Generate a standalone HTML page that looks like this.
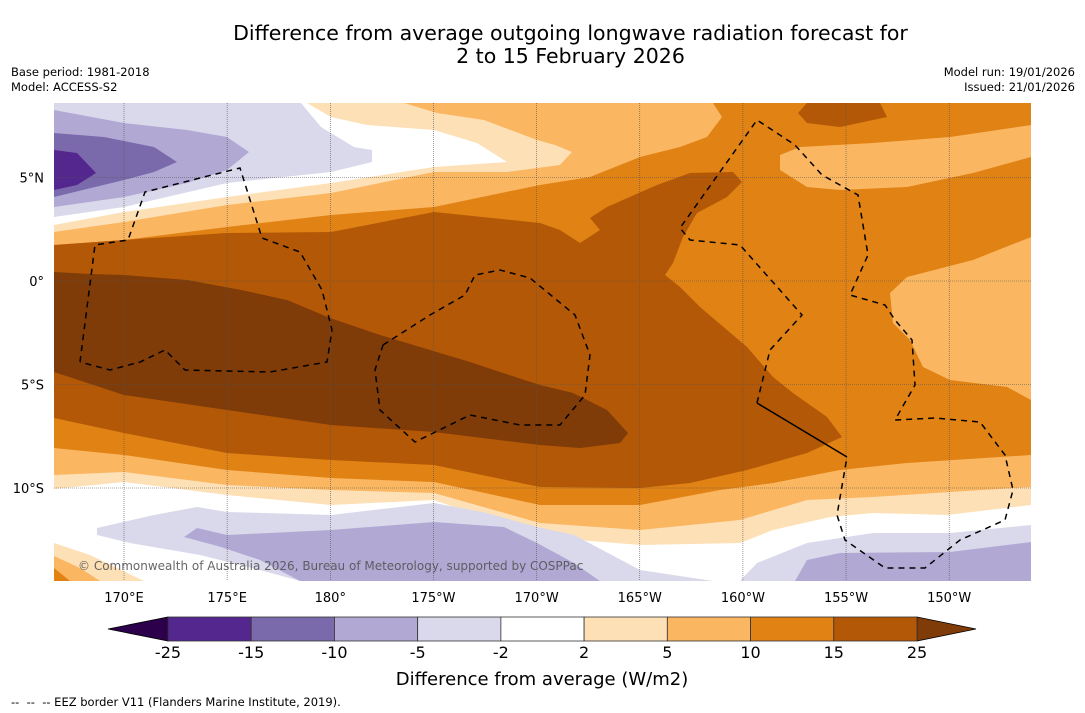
<!DOCTYPE html>
<html><head><meta charset="utf-8"><style>
body{margin:0;width:1085px;height:713px;background:#fff;font-family:"DejaVu Sans","Liberation Sans",sans-serif;overflow:hidden;position:relative}
svg text{font-family:"DejaVu Sans","Liberation Sans",sans-serif}
.t{position:absolute;white-space:nowrap;color:#000}
</style></head><body>
<div class="t" style="left:0;width:1141px;text-align:center;top:22px;font-size:20.5px;line-height:23px">Difference from average outgoing longwave radiation forecast for<br>2 to 15 February 2026</div>
<div class="t" style="left:11px;top:65px;font-size:11.5px;line-height:15px">Base period: 1981-2018<br>Model: ACCESS-S2</div>
<div class="t" style="right:10px;top:65px;font-size:11.5px;line-height:15px;text-align:right">Model run: 19/01/2026<br>Issued: 21/01/2026</div>
<svg id="map" width="1085" height="713" style="position:absolute;left:0;top:0">
<defs><clipPath id="cp"><rect x="54" y="103" width="977" height="478"/></clipPath></defs>
<g clip-path="url(#cp)">
<rect x="54" y="103" width="977" height="478" fill="#fff"/>
<polygon fill="#fde0b6" points="307,103 1031,103 1031,505 947,515 873,513 830,517 773,530 740,543 640,545 540,537 434,500 331,505 227,495 124,482 54,489 54,225 124,212 227,197 331,183 434,167 507,162 477,143 434,130 367,125 331,117"/>
<polygon fill="#fbb661" points="54,232 124,222 227,205 331,193 434,172 507,172 560,165 572,152 555,145 537,140 484,120 437,113 404,103 1031,103 1031,487 950,492 873,497 807,500 740,520 640,530 540,523 434,493 331,490 227,485 124,472 54,475"/>
<polygon fill="#e08214" points="54,245 124,240 227,227 331,215 434,207 540,185 590,177 640,157 680,147 707,137 722,117 713,103 1031,103 1031,455 907,463 840,470 773,483 720,490 640,505 540,505 434,482 331,478 227,470 124,455 54,448"/>
<polygon fill="#fbb661" points="780,155 800,147 873,143 950,137 1031,125 1031,157 973,173 907,187 840,190 807,187 780,170"/>
<polygon fill="#fbb661" points="1031,237 973,260 907,277 890,293 893,323 910,340 923,367 950,380 1007,387 1031,400"/>
<polygon fill="#b35806" points="54,245 124,240 227,233 331,232 434,212 540,223 560,230 580,243 600,230 590,218 607,207 657,185 690,173 733,172 742,182 727,197 697,213 683,237 673,263 665,275 680,287 700,307 727,330 747,347 773,377 793,393 827,417 842,437 807,453 747,470 690,483 640,488 540,487 434,465 331,460 227,453 124,433 54,418"/>
<polygon fill="#b35806" points="798,113 807,103 880,103 887,117 840,127 807,123"/>
<polygon fill="#7f3b08" points="54,272 90,274 124,275 187,280 241,290 287,300 330,318 380,335 430,350 470,362 500,372 540,385 573,393 607,410 628,433 620,443 580,448 540,445 434,432 331,425 227,410 124,395 54,372"/>
<polygon fill="#d9d9eb" points="54,103 301,103 321,127 354,147 372,150 372,162 331,172 227,183 124,207 54,217"/>
<polygon fill="#b1a9d3" points="54,110 124,123 187,130 227,137 249,152 227,170 187,183 124,197 54,207"/>
<polygon fill="#7b6aab" points="54,133 104,137 154,147 177,162 154,172 124,180 54,197"/>
<polygon fill="#54278f" points="54,150 77,153 96,173 77,185 54,190"/>
<polygon fill="#d9d9eb" points="97,528 154,515 197,507 227,512 331,515 434,503 487,513 537,527 574,535 640,570 713,581 300,581 260,570 200,555 130,543 97,535"/>
<polygon fill="#b1a9d3" points="184,537 197,528 227,535 331,530 434,522 504,527 537,543 574,563 600,581 300,581 260,560 221,547"/>
<polygon fill="#d9d9eb" points="740,581 757,563 807,543 873,533 950,533 1031,525 1031,581"/>
<polygon fill="#b1a9d3" points="795,581 807,560 840,553 950,552 1031,542 1031,581"/>
<polygon fill="#fde0b6" points="54,543 90,555 144,581 54,581"/>
<polygon fill="#fbb661" points="54,556 80,568 100,581 54,581"/>
<polygon fill="#e08214" points="54,568 70,581 54,581"/>
<g id="grid"></g>
<g fill="none" stroke="#000" stroke-width="1.5" stroke-dasharray="6,5">
<polyline points="80,362 95,245 128,240 145,192 200,178 240,168 262,238 300,252 322,290 332,330 327,362 270,372 185,370 165,350 140,362 110,370 80,362"/>
<polyline points="383,345 430,315 465,295 475,275 500,270 530,278 575,315 590,355 585,395 560,425 520,425 470,415 415,442 380,410 375,370 383,345"/>
<polyline points="757,403 770,350 802,315 740,245 690,240 680,228 757,120 795,145 822,175 858,195 868,255 850,295 885,305 895,320 912,340 915,385 895,420 935,418 980,422 1005,455 1013,490 1005,520 960,540 925,568 885,568 845,540 837,515 847,457"/>
<polyline stroke-dasharray="none" points="757,403 847,457"/>
</g>
</g>
<text x="78" y="570" font-size="12" fill="#555" opacity="0.9">© Commonwealth of Australia 2026, Bureau of Meteorology, supported by COSPPac</text>
<g id="axes"></g>
<g id="cbar"></g>
<text x="542" y="685" font-size="18" text-anchor="middle">Difference from average (W/m2)</text>
<text x="11" y="706" font-size="11.5" xml:space="preserve">--  --  -- EEZ border V11 (Flanders Marine Institute, 2019).</text>
</svg>
<script>
const lonTicks=[170,175,180,185,190,195,200,205,210];
const lonLabels=["170°E","175°E","180°","175°W","170°W","165°W","160°W","155°W","150°W"];
const latTicks=[5,0,-5,-10];
const latLabels=["5°N","0°","5°S","10°S"];
const levels=["-25","-15","-10","-5","-2","2","5","10","15","25"];
const colors=["#54278f","#7b6aab","#b1a9d3","#d9d9eb","#ffffff","#fde0b6","#fbb661","#e08214","#b35806"];
const underColor="#2d004b", overColor="#7f3b08";
const NS="http://www.w3.org/2000/svg";
const xLon=l=>124+(l-170)*20.63;
const yLat=l=>281-l*20.7;
const grid=document.getElementById('grid'), axes=document.getElementById('axes'), cb=document.getElementById('cbar');
function mk(tag,attrs,parent){const e=document.createElementNS(NS,tag);for(const k in attrs)e.setAttribute(k,attrs[k]);parent.appendChild(e);return e;}
lonTicks.forEach((l,i)=>{
  const g=mk('line',{x1:xLon(l),x2:xLon(l),y1:103,y2:581,stroke:'#555','stroke-width':0.6,'stroke-dasharray':'1,1'},grid);
  
  
  const t=mk('text',{x:xLon(l),y:602,'font-size':13,'text-anchor':'middle'},axes);
  t.textContent=lonLabels[i];
  
  
});
latTicks.forEach((l,i)=>{
  const g=mk('line',{x1:54,x2:1031,y1:yLat(l),y2:yLat(l),stroke:'#555','stroke-width':0.6,'stroke-dasharray':'1,1'},grid);
  
  
  const t=mk('text',{x:44,y:yLat(l)+5,'font-size':13,'text-anchor':'end'},axes);
  t.textContent=latLabels[i];
  
  
});
const cx0=168,cx1=917,cy=617,ch=24,sw=(cx1-cx0)/colors.length;
const tl=mk('polygon',{points:`108,${cy+ch/2} ${cx0},${cy} ${cx0},${cy+ch}`,fill:underColor,stroke:'#000','stroke-width':0.8},cb);


const tr=mk('polygon',{points:`${cx1},${cy} 976,${cy+ch/2} ${cx1},${cy+ch}`,fill:overColor,stroke:'#000','stroke-width':0.8},cb);


colors.forEach((c,i)=>{
  const r=mk('rect',{x:cx0+i*sw,y:cy,width:sw,height:ch,fill:c,stroke:'#333','stroke-width':0.8},cb);
  
  
});
levels.forEach((v,i)=>{
  const t=mk('text',{x:cx0+i*sw,y:658,'font-size':16,'text-anchor':'middle'},cb);
  t.textContent=v;
  
  
});
</script>
</body></html>
